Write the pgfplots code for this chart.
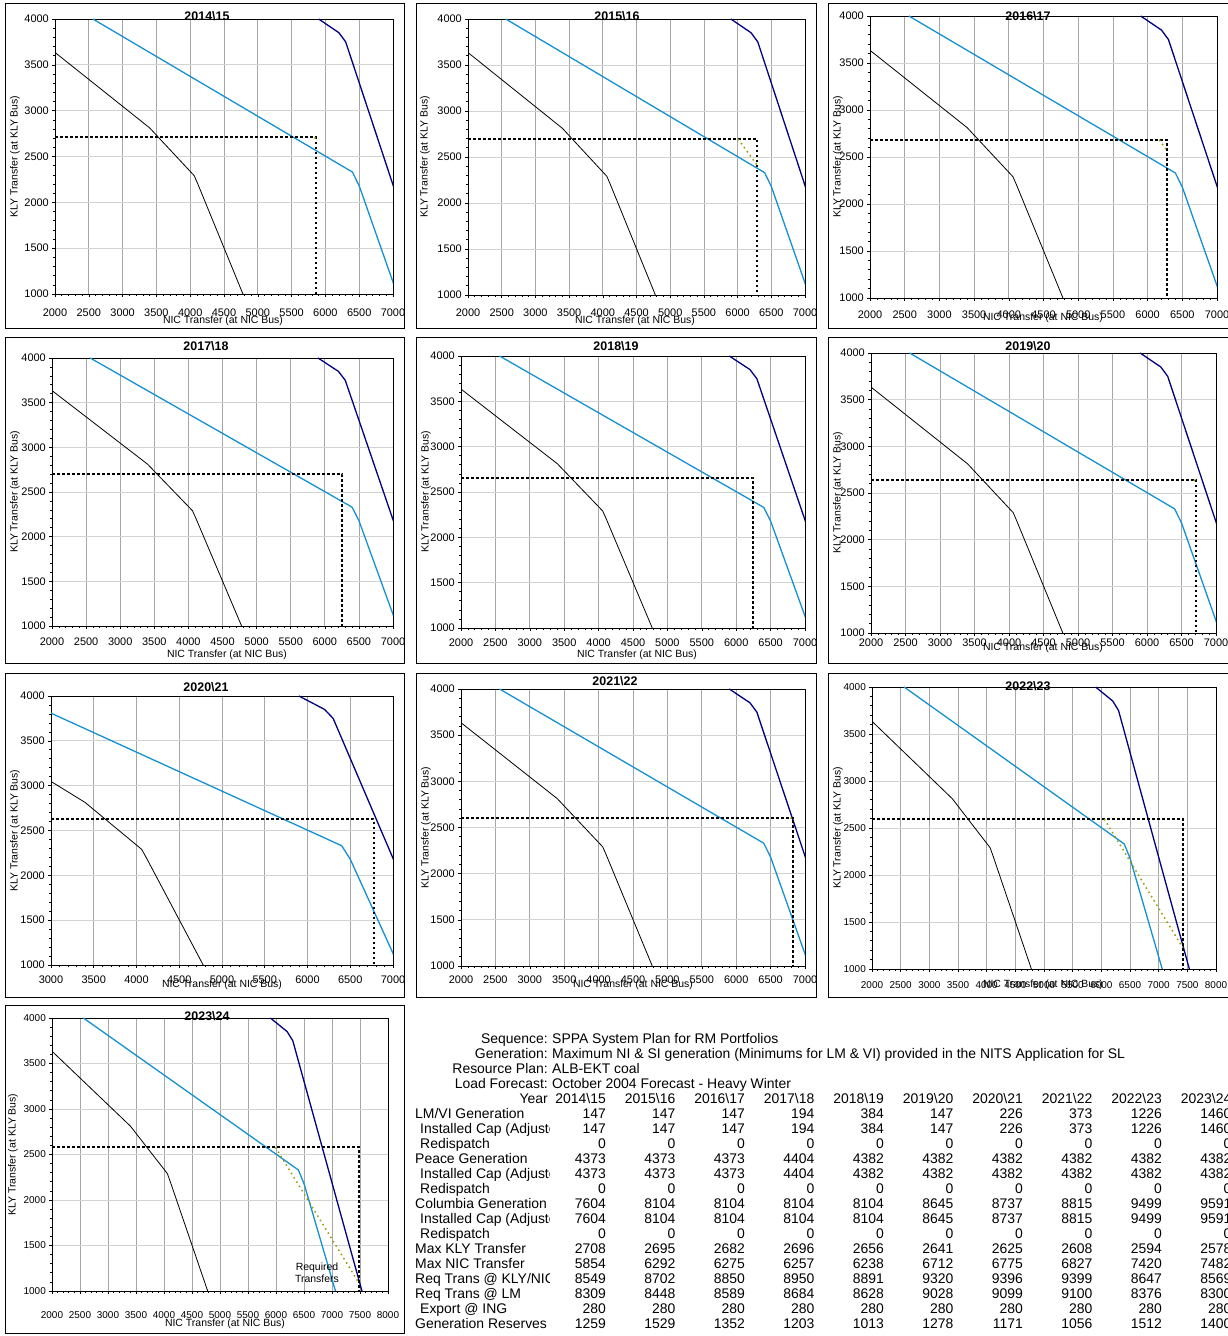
\documentclass[border=0pt]{standalone}
\usepackage{pgfplots}
\pgfplotsset{compat=1.18}
\usepackage{pgfplotstable}
\usepackage{fontspec}
\setmainfont{Liberation Sans}

\definecolor{skyline}{RGB}{20,145,210}
\definecolor{navyline}{RGB}{0,0,128}
\definecolor{reqline}{RGB}{153,153,0}

% transfer limit curves (NIC, KLY)
\pgfplotstableread{
x y
2000 3635
3400 2812
4060 2290
4110 2205
4780 1000
}\lowcurve
\pgfplotstableread{
x y
2560 4000
6400 2330
6500 2180
7000 1130
7062 1000
}\midcurve
\pgfplotstableread{
x y
5900 4000
6200 3850
6300 3750
7000 2190
7535 1000
}\highcurve

\pgfplotsset{
  panel/.style={
    scale only axis, anchor=south west,
    xmin=2000, xmax=7000, ymin=1000, ymax=4000,
    xtick distance=500, ytick={1000,1500,...,4000},
    minor x tick num=4, minor y tick num=4,
    tick pos=left, tick align=outside,
    major tick length=3bp, minor tick length=2bp,
    xmajorgrids, ymajorgrids,
    x grid style={gray!70, line width=0.75bp},
    y grid style={gray!35, line width=0.75bp},
    axis line style={black, line width=0.75bp},
    tick style={black, line width=0.6bp},
    scaled ticks=false,
    /pgf/number format/assume math mode=true,
    /pgf/number format/1000 sep={},
    tick label style={font=\fontsize{11}{12}\selectfont},
    xticklabel style={anchor=center},
    yticklabel style={anchor=east, inner sep=0pt},
    yticklabel shift=3bp,
  },
  small ticks/.style={tick label style={font=\fontsize{10}{11}\selectfont}},
  lowstyle/.style={black, line width=0.8bp},
  midstyle/.style={skyline, line width=1.3bp},
  highstyle/.style={navyline, line width=1.3bp},
  limitstyle/.style={black, line width=2bp, dash pattern=on 2.5bp off 2.5bp},
  reqstyle/.style={reqline, line width=1.5bp, dash pattern=on 1.5bp off 3.5bp},
}

\newcommand{\curves}{%
  \addplot[lowstyle] table {\lowcurve};
  \addplot[midstyle] table {\midcurve};
  \addplot[highstyle] table {\highcurve};
}

\newcommand{\titlefont}{\fontsize{12.5}{14}\selectfont\bfseries}
\newcommand{\labelfont}{\fontsize{10.5}{12}\selectfont}
\newcommand{\ylab}{KLY Transfer (at KLY Bus)}
\newcommand{\xlab}{NIC Transfer (at NIC Bus)}

% table row: #1 row index, #2 label x, #3 label, #4 values
\newcommand{\tabrow}[4]{%
  \begin{scope}
    \clip (410,{287-15*#1}) rectangle (549,{303-15*#1});
    \node[anchor=mid west, inner sep=0pt] at (#2,{295-15*#1}) {#3};
  \end{scope}
  \foreach \v [count=\k from 0] in {#4} {
    \node[anchor=mid east, inner sep=0pt] at ({606+69.5*\k},{295-15*#1}) {\v};
  }%
}

\begin{document}
\begin{tikzpicture}
\useasboundingbox (0bp,0bp) rectangle (1228bp,1336bp);
\begin{scope}[x=1bp, y=1bp]
% panel frames
\foreach \fy/\fh in {1008/1333, 673/999, 339/663} {
  \draw[black, line width=0.8bp] (5.5,\fy) rectangle (404.5,\fh);
  \draw[black, line width=0.8bp] (416,\fy) rectangle (816,\fh);
  \draw[black, line width=0.8bp] (828,\fy) rectangle (1240,\fh);
}
\draw[black, line width=0.8bp] (5.5,3) rectangle (404.5,331);
\end{scope}

% ---------------- 2014\15
\begin{axis}[panel, at={(55bp,1042bp)}, width=338bp, height=275bp, xticklabel shift=16bp]
\curves
\addplot[limitstyle] coordinates {(2000,2708) (5854,2708) (5854,1000)};
\addplot[reqstyle] coordinates {(5841,2708) (5854,2695)};
\end{axis}

% ---------------- 2015\16
\begin{axis}[panel, at={(468bp,1041bp)}, width=337bp, height=276bp, xticklabel shift=15bp]
\curves
\addplot[limitstyle] coordinates {(2000,2695) (6292,2695) (6292,1000)};
\addplot[reqstyle] coordinates {(6007,2695) (6292,2410)};
\end{axis}

% ---------------- 2016\17
\begin{axis}[panel, at={(870bp,1038bp)}, width=347bp, height=282bp, xticklabel shift=14bp]
\curves
\addplot[limitstyle] coordinates {(2000,2682) (6275,2682) (6275,1000)};
\addplot[reqstyle] coordinates {(6168,2682) (6275,2575)};
\end{axis}

% ---------------- 2017\18
\begin{axis}[panel, at={(52bp,710bp)}, width=341bp, height=268bp, xticklabel shift=13bp]
\curves
\addplot[limitstyle] coordinates {(2000,2696) (6257,2696) (6257,1000)};
\addplot[reqstyle] coordinates {(6254,2696) (6257,2693)};
\end{axis}

% ---------------- 2018\19
\begin{axis}[panel, at={(461bp,708bp)}, width=344bp, height=272bp, xticklabel shift=12bp]
\curves
\addplot[limitstyle] coordinates {(2000,2656) (6238,2656) (6238,1000)};
\addplot[reqstyle] coordinates {(6235,2656) (6238,2653)};
\end{axis}

% ---------------- 2019\20
\begin{axis}[panel, at={(871bp,703bp)}, width=345bp, height=280bp, xticklabel shift=7bp]
\curves
\addplot[limitstyle] coordinates {(2000,2641) (6712,2641) (6712,1000)};
\addplot[reqstyle] coordinates {(6679,2641) (6712,2608)};
\end{axis}

% ---------------- 2020\21
\begin{axis}[panel, at={(51bp,371bp)}, width=342bp, height=269bp, xmin=3000, xticklabel shift=12bp]
\curves
\addplot[limitstyle] coordinates {(3000,2625) (6775,2625) (6775,1000)};
\addplot[reqstyle] coordinates {(6771,2625) (6775,2621)};
\end{axis}

% ---------------- 2021\22
\begin{axis}[panel, at={(461bp,370bp)}, width=344bp, height=277bp, xticklabel shift=11bp]
\curves
\addplot[limitstyle] coordinates {(2000,2608) (6827,2608) (6827,1000)};
\addplot[reqstyle] coordinates {(6791,2608) (6827,2572)};
\end{axis}

% ---------------- 2022\23
\begin{axis}[panel, small ticks, at={(872bp,367bp)}, width=344bp, height=282bp, xmax=8000, xticklabel shift=13bp]
\curves
\addplot[limitstyle] coordinates {(2000,2594) (7420,2594) (7420,1000)};
\addplot[reqstyle] coordinates {(6053,2594) (7420,1227)};
\end{axis}

% ---------------- 2023\24
\begin{axis}[panel, small ticks, at={(52bp,45bp)}, width=336bp, height=273bp, xmax=8000, xticklabel shift=21bp]
\curves
\addplot[limitstyle] coordinates {(2000,2578) (7482,2578) (7482,1000)};
\addplot[reqstyle] coordinates {(5991,2578) (7482,1087)};
\end{axis}

\begin{scope}[x=1bp, y=1bp]
% panel titles and axis labels
\node[font=\titlefont] at (207,1320) {2014\textbackslash 15};
\node[font=\labelfont] at (223,1015) {\xlab};
\node[font=\labelfont, rotate=90] at (15,1179.5) {\ylab};
\node[font=\titlefont] at (617,1320) {2015\textbackslash 16};
\node[font=\labelfont] at (635,1015) {\xlab};
\node[font=\labelfont, rotate=90] at (425,1179) {\ylab};
\node[font=\titlefont] at (1028,1320) {2016\textbackslash 17};
\node[font=\labelfont] at (1043,1018) {\xlab};
\node[font=\labelfont, rotate=90] at (838,1179) {\ylab};
\node[font=\titlefont] at (206,990) {2017\textbackslash 18};
\node[font=\labelfont] at (227,681) {\xlab};
\node[font=\labelfont, rotate=90] at (15,844) {\ylab};
\node[font=\titlefont] at (616,990) {2018\textbackslash 19};
\node[font=\labelfont] at (637,681) {\xlab};
\node[font=\labelfont, rotate=90] at (426,844) {\ylab};
\node[font=\titlefont] at (1028,990) {2019\textbackslash 20};
\node[font=\labelfont] at (1043,688) {\xlab};
\node[font=\labelfont, rotate=90] at (838,843) {\ylab};
\node[font=\titlefont] at (206,649) {2020\textbackslash 21};
\node[font=\labelfont] at (222,351) {\xlab};
\node[font=\labelfont, rotate=90] at (15,505.5) {\ylab};
\node[font=\titlefont] at (615,655) {2021\textbackslash 22};
\node[font=\labelfont] at (633,351) {\xlab};
\node[font=\labelfont, rotate=90] at (426,508.5) {\ylab};
\node[font=\titlefont] at (1028,650) {2022\textbackslash 23};
\node[font=\labelfont] at (1043,351) {\xlab};
\node[font=\labelfont, rotate=90] at (838,508) {\ylab};
\node[font=\titlefont] at (207,320) {2023\textbackslash 24};
\node[font=\labelfont] at (225,12) {\xlab};
\node[font=\labelfont, rotate=90] at (13,181.5) {\ylab};
\node[font=\labelfont, align=center] at (317,63.5) {Required\\Transfers};

% study summary
\begin{scope}[font=\fontsize{14}{15}\selectfont]
\node[anchor=mid east, inner sep=0pt] at (548,295) {Sequence:};
\node[anchor=mid west, inner sep=0pt] at (552,295) {SPPA System Plan for RM Portfolios};
\node[anchor=mid east, inner sep=0pt] at (548,280) {Generation:};
\node[anchor=mid west, inner sep=0pt] at (552,280) {Maximum NI \& SI generation (Minimums for LM \& VI) provided in the NITS Application for SL};
\node[anchor=mid east, inner sep=0pt] at (548,265) {Resource Plan:};
\node[anchor=mid west, inner sep=0pt] at (552,265) {ALB-EKT coal};
\node[anchor=mid east, inner sep=0pt] at (548,250) {Load Forecast:};
\node[anchor=mid west, inner sep=0pt] at (552,250) {October 2004 Forecast - Heavy Winter};
\node[anchor=mid east, inner sep=0pt] at (548,235) {Year};
\foreach \yr [count=\k from 0] in {2014\textbackslash 15,2015\textbackslash 16,2016\textbackslash 17,2017\textbackslash 18,2018\textbackslash 19,2019\textbackslash 20,2020\textbackslash 21,2021\textbackslash 22,2022\textbackslash 23,2023\textbackslash 24} {
  \node[anchor=mid east, inner sep=0pt] at ({606+69.5*\k},235) {\yr};
}
\tabrow{5}{415}{LM/VI Generation}{147,147,147,194,384,147,226,373,1226,1460}
\tabrow{6}{420}{Installed Cap (Adjusted)}{147,147,147,194,384,147,226,373,1226,1460}
\tabrow{7}{420}{Redispatch}{0,0,0,0,0,0,0,0,0,0}
\tabrow{8}{415}{Peace Generation}{4373,4373,4373,4404,4382,4382,4382,4382,4382,4382}
\tabrow{9}{420}{Installed Cap (Adjusted)}{4373,4373,4373,4404,4382,4382,4382,4382,4382,4382}
\tabrow{10}{420}{Redispatch}{0,0,0,0,0,0,0,0,0,0}
\tabrow{11}{415}{Columbia Generation}{7604,8104,8104,8104,8104,8645,8737,8815,9499,9591}
\tabrow{12}{420}{Installed Cap (Adjusted)}{7604,8104,8104,8104,8104,8645,8737,8815,9499,9591}
\tabrow{13}{420}{Redispatch}{0,0,0,0,0,0,0,0,0,0}
\tabrow{14}{415}{Max KLY Transfer}{2708,2695,2682,2696,2656,2641,2625,2608,2594,2578}
\tabrow{15}{415}{Max NIC Transfer}{5854,6292,6275,6257,6238,6712,6775,6827,7420,7482}
\tabrow{16}{415}{Req Trans @ KLY/NIC}{8549,8702,8850,8950,8891,9320,9396,9399,8647,8569}
\tabrow{17}{415}{Req Trans @ LM}{8309,8448,8589,8684,8628,9028,9099,9100,8376,8300}
\tabrow{18}{420}{Export @ ING}{280,280,280,280,280,280,280,280,280,280}
\tabrow{19}{415}{Generation Reserves}{1259,1529,1352,1203,1013,1278,1171,1056,1512,1400}
\end{scope}
\end{scope}
\end{tikzpicture}
\end{document}
